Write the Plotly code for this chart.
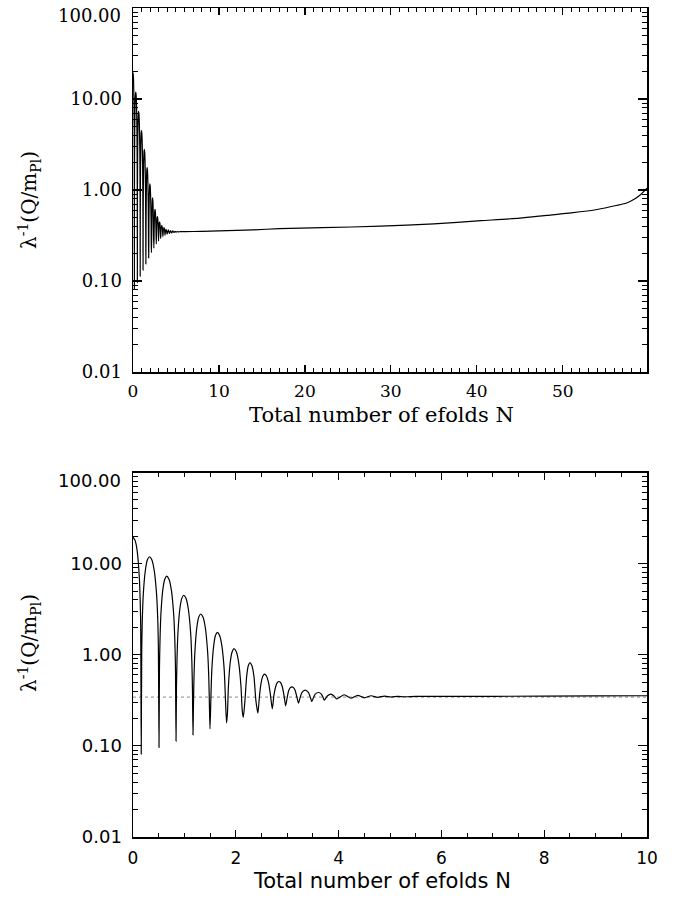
import plotly.graph_objects as go

# ---- data ----
# damped oscillation phase (N, lambda^-1 Q/m_Pl)
N_OSC = [0.0, 0.04, 0.08, 0.12, 0.14, 0.15, 0.16,
         0.17, 0.18, 0.20, 0.24, 0.28, 0.32, 0.366, 0.413, 0.459, 0.483, 0.494, 0.506,
         0.515, 0.525, 0.543, 0.580, 0.618, 0.655, 0.700, 0.746, 0.791, 0.814, 0.826, 0.837,
         0.846, 0.856, 0.874, 0.911, 0.949, 0.986, 1.031, 1.076, 1.122, 1.144, 1.156, 1.167,
         1.176, 1.186, 1.204, 1.241, 1.279, 1.316, 1.361, 1.407, 1.452, 1.475, 1.487, 1.498,
         1.516, 1.533, 1.569, 1.604, 1.640, 1.685, 1.730, 1.775, 1.797, 1.820,
         1.838, 1.856, 1.892, 1.929, 1.965, 2.010, 2.055, 2.101, 2.124, 2.146,
         2.178, 2.211, 2.243, 2.276, 2.314, 2.353, 2.391, 2.430,
         2.462, 2.495, 2.527, 2.560, 2.597, 2.635, 2.672, 2.710,
         2.742, 2.775, 2.807, 2.840, 2.872, 2.905, 2.937, 2.970,
         3.000, 3.030, 3.060, 3.090, 3.122, 3.155, 3.187, 3.220,
         3.252, 3.285, 3.350, 3.415, 3.447, 3.480,
         3.512, 3.545, 3.610, 3.665, 3.692, 3.720,
         3.785, 3.850, 3.905, 3.960,
         4.11, 4.24, 4.37, 4.50, 4.63, 4.76, 4.89, 5.02, 5.15, 5.28, 5.5]
Q_OSC = [19.5, 18.0, 14.0, 7.5, 3.9, 2.0, 0.081,
         1.17, 2.3, 4.6, 8.4, 11.0, 11.9, 11.0, 8.4, 4.6, 2.3, 1.17, 0.096,
         0.72, 1.42, 2.8, 5.16, 6.75, 7.3, 6.75, 5.16, 2.8, 1.42, 0.72, 0.113,
         0.44, 0.88, 1.72, 3.18, 4.16, 4.5, 4.16, 3.18, 1.72, 0.88, 0.44, 0.132,
         0.274, 0.546, 1.07, 1.98, 2.59, 2.8, 2.59, 1.98, 1.07, 0.546, 0.274, 0.154,
         0.343, 0.674, 1.244, 1.626, 1.76, 1.626, 1.244, 0.674, 0.343, 0.179,
         0.23, 0.448, 0.827, 1.08, 1.17, 1.08, 0.827, 0.448, 0.25, 0.205,
         0.314, 0.58, 0.758, 0.82, 0.758, 0.58, 0.314, 0.229,
         0.36, 0.5, 0.585, 0.614, 0.585, 0.5, 0.37, 0.255,
         0.36, 0.445, 0.495, 0.509, 0.495, 0.445, 0.36, 0.275,
         0.34, 0.405, 0.435, 0.445, 0.435, 0.405, 0.345, 0.294,
         0.34, 0.385, 0.409, 0.385, 0.345, 0.307,
         0.34, 0.37, 0.385, 0.37, 0.345, 0.318,
         0.355, 0.37, 0.355, 0.328,
         0.364, 0.333, 0.359, 0.337, 0.355, 0.341, 0.352, 0.344, 0.350, 0.346, 0.349]

# slow-roll trend
N_TREND = [6, 8, 10, 14, 17, 22, 28.8, 35, 40.5, 45, 48.2, 51, 54, 56.2, 57.5, 58.3, 59, 59.8]
Q_TREND = [0.349, 0.351, 0.355, 0.365, 0.376, 0.385, 0.40, 0.425, 0.46, 0.49, 0.527,
           0.56, 0.61, 0.675, 0.725, 0.79, 0.88, 1.05]

# dotted reference level (lower panel)
REF_N = [0, 10]
REF_Q = [0.343, 0.343]

Y_TICKVALS = [0.01, 0.1, 1, 10]
Y_TICKTEXT = ["0.01", "0.10", "1.00", "10.00"]
Y_TOP_LABEL = "100.00"   # top label (at the frame edge) drawn slightly inward, as in the original
TOP_XTICKS = [0, 10, 20, 30, 40, 50]
BOT_XTICKS = [0, 2, 4, 6, 8, 10]
X_TITLE = "Total number of efolds N"
Y_TITLE = "λ<sup>-1</sup>(Q/m<sub>Pl</sub>)"

N_ALL = N_OSC + N_TREND
Q_ALL = Q_OSC + Q_TREND

SERIF = "DejaVu Serif"
SANS = "DejaVu Sans"

minor_log = [m * 10 ** e for e in range(-2, 2) for m in range(2, 10)]

fig = go.Figure()
fig.add_trace(go.Scatter(x=N_ALL, y=Q_ALL, mode="lines", xaxis="x", yaxis="y",
                         line=dict(color="black", width=1.2, shape="spline", smoothing=0.6),
                         showlegend=False))
fig.add_trace(go.Scatter(x=REF_N, y=REF_Q, mode="lines", xaxis="x2", yaxis="y2",
                         line=dict(color="#888888", width=1, dash="dot"), showlegend=False))
fig.add_trace(go.Scatter(x=N_ALL, y=Q_ALL, mode="lines", xaxis="x2", yaxis="y2",
                         line=dict(color="black", width=1.2, shape="spline", smoothing=0.6),
                         showlegend=False))

W, H = 679, 901
xdom = [133 / W, 647 / W]
top_dom = [1 - 372 / H, 1 - 8 / H]
bot_dom = [1 - 837 / H, 1 - 472.5 / H]

common_axis = dict(showline=True, linecolor="black", linewidth=1.5, mirror="allticks",
                   ticks="inside", tickcolor="black", showgrid=False, zeroline=False,
                   automargin=False, ticklabeloverflow="allow")

fig.update_layout(
    width=W, height=H, paper_bgcolor="white", plot_bgcolor="white",
    margin=dict(l=0, r=0, t=0, b=0, pad=0),
    hovermode=False,
    xaxis=dict(domain=xdom, anchor="y", range=[0, 59.8], tickvals=TOP_XTICKS,
               ticklen=7, tickwidth=1.2,
               minor=dict(dtick=1, tick0=0, ticks="inside", ticklen=4, tickcolor="black", tickwidth=1),
               tickfont=dict(family=SERIF, size=17, color="black"), ticklabelstandoff=3,
               **common_axis),
    yaxis=dict(domain=top_dom, anchor="x", type="log", range=[-2, 2],
               tickvals=Y_TICKVALS, ticktext=Y_TICKTEXT, ticklen=9, tickwidth=1.2,
               minor=dict(tickvals=minor_log, ticks="inside", ticklen=5, tickcolor="black", tickwidth=1),
               tickfont=dict(family=SERIF, size=18, color="black"), ticklabelstandoff=6,
               **common_axis),
    xaxis2=dict(domain=xdom, anchor="y2", range=[0, 10], tickvals=BOT_XTICKS,
                ticklen=7, tickwidth=1.2,
                minor=dict(dtick=0.5, tick0=0, ticks="inside", ticklen=4, tickcolor="black", tickwidth=1),
                tickfont=dict(family=SANS, size=17, color="black"), ticklabelstandoff=5,
                **common_axis),
    yaxis2=dict(domain=bot_dom, anchor="x2", type="log", range=[-2, 2],
                tickvals=Y_TICKVALS, ticktext=Y_TICKTEXT, ticklen=9, tickwidth=1.2,
                minor=dict(tickvals=minor_log, ticks="inside", ticklen=5, tickcolor="black", tickwidth=1),
                tickfont=dict(family=SANS, size=18, color="black"), ticklabelstandoff=6,
                **common_axis),
)

def px(x):
    return x / W

def py(y):
    return 1 - y / H

# top tick labels of the log axes, set slightly inward like the original plot
fig.add_annotation(text=Y_TOP_LABEL, x=px(123), y=py(16), xref="paper", yref="paper",
                   showarrow=False, xanchor="right", yanchor="middle",
                   font=dict(family=SERIF, size=18, color="black"))
fig.add_annotation(text=Y_TOP_LABEL, x=px(123), y=py(481), xref="paper", yref="paper",
                   showarrow=False, xanchor="right", yanchor="middle",
                   font=dict(family=SANS, size=18, color="black"))

# axis titles
fig.add_annotation(text=X_TITLE, x=px(381), y=py(415), xref="paper", yref="paper",
                   showarrow=False, xanchor="center", yanchor="middle",
                   font=dict(family=SERIF, size=21, color="black"))
fig.add_annotation(text=X_TITLE, x=px(382), y=py(881), xref="paper", yref="paper",
                   showarrow=False, xanchor="center", yanchor="middle",
                   font=dict(family=SANS, size=21, color="black"))
fig.add_annotation(text=Y_TITLE, x=px(29), y=py(200), xref="paper", yref="paper",
                   showarrow=False, xanchor="center", yanchor="middle", textangle=-90,
                   font=dict(family=SERIF, size=20, color="black"))
fig.add_annotation(text=Y_TITLE, x=px(29), y=py(643), xref="paper", yref="paper",
                   showarrow=False, xanchor="center", yanchor="middle", textangle=-90,
                   font=dict(family=SERIF, size=20, color="black"))

# the page body has a default 8px margin; remove it so the figure sits at the page origin
fig.write_html("out.html", config={"displayModeBar": False, "staticPlot": True},
               post_script="document.body.style.margin='0px';")
